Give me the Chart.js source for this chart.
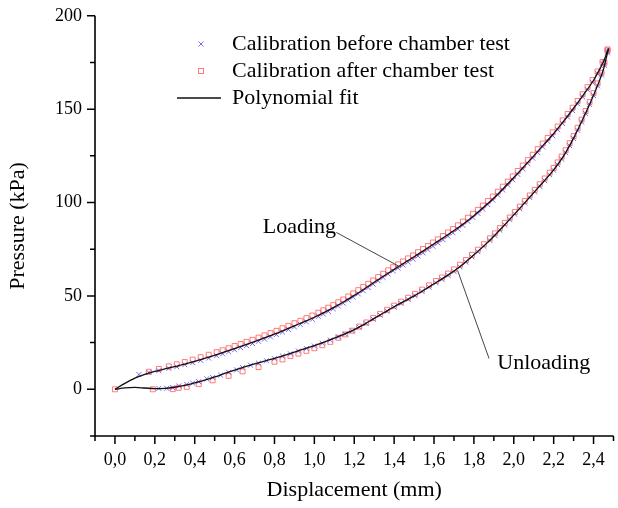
<!DOCTYPE html>
<html><head><meta charset="utf-8">
<script src="https://cdn.jsdelivr.net/npm/chart.js@4.4.1/dist/chart.umd.min.js"></script>
<style>html,body{margin:0;padding:0;background:#fff;}#wrap{width:618px;height:508px;}</style>
</head><body><div id="wrap"><canvas id="c" width="618" height="508"></canvas></div>
<script>
// ---------- data ----------
const loadX = [0.12,0.17,0.22,0.27,0.31,0.35,0.39,0.43,0.47,0.51,0.54,0.57,0.60,0.63,0.66,0.69,0.72,0.75,0.78,0.81,0.84,0.87,0.90,0.93,0.96,0.99,
1.02,1.045,1.07,1.095,1.12,1.145,1.17,1.195,1.22,1.245,1.27,1.295,1.32,1.345,1.37,1.395,1.42,1.445,1.47,1.495,1.52,1.545,1.57,1.595,1.62,1.645,1.67,1.695,1.72,1.745,1.77,1.795,1.82,1.845,1.87,1.895,1.92,1.945,1.97,1.995,2.02,2.045,2.07,2.095,2.12,2.145,2.17,2.195,2.22,2.245,2.27,2.295,2.32,2.345,2.37,2.395,2.42,2.445,2.47];
const loadBlue = [7.9,9.0,10.0,11.2,12.1,13.2,14.3,15.5,16.7,18.0,19.0,20.1,21.2,22.3,23.4,24.5,25.7,26.9,28.1,29.3,30.7,32.0,33.4,34.7,36.1,37.5,
39.0,40.3,41.7,43.1,44.6,46.1,47.7,49.4,51.1,52.8,54.5,56.3,58.1,59.9,61.7,63.4,64.9,66.5,68.1,69.7,71.4,73.1,74.8,76.6,78.3,80.1,82.0,83.8,85.8,87.8,89.9,92.0,94.2,96.5,98.9,101.3,104.0,106.7,109.4,112.2,115.1,118.0,120.9,123.8,126.8,129.8,132.8,135.8,139.0,142.3,145.8,149.2,152.9,156.6,160.4,164.3,169.0,174.3,181.0];
const loadRed = [null,9.4,10.9,12.3,13.4,14.6,15.9,17.2,18.5,19.9,20.9,22.0,23.2,24.3,25.4,26.5,27.7,28.9,30.1,31.3,32.7,34.0,35.4,36.7,38.1,39.5,
41.0,42.3,43.7,45.1,46.6,48.1,49.7,51.4,53.1,54.8,56.5,58.3,60.1,61.9,63.7,65.4,66.9,68.5,70.1,71.7,73.4,75.1,76.8,78.6,80.3,82.1,84.0,85.8,87.8,89.8,91.9,94.0,96.1,98.4,100.8,103.2,105.8,108.5,111.2,114.0,116.9,119.8,122.7,125.6,128.6,131.6,134.6,137.6,140.7,144.0,147.4,150.8,154.4,158.0,161.8,165.6,170.2,175.3,182.0];

const unloadX = [0,0.19,0.22,0.26,0.29,0.32,0.36,0.39,0.42,0.46,0.49,0.53,0.57,0.61,0.64,0.68,0.72,0.76,0.80,0.84,0.88,0.92,0.96,1.00,1.04,1.08,1.12,1.155,1.19,1.225,1.26,1.295,1.33,1.365,1.40,1.435,1.47,1.505,1.54,1.575,1.61,1.64,1.67,1.70,1.73,1.76,1.79,1.82,1.85,1.88,1.905,1.93,1.955,1.98,2.005,2.03,2.055,2.08,2.105,2.13,2.155,2.18,2.20,2.22,2.24,2.26,2.28,2.30,2.32,2.34,2.36,2.38,2.40,2.42,2.44,2.455,2.47];
const unloadBlue = [null,null,0.5,0.5,0.9,1.8,2.6,3.3,4.1,5.6,6.3,7.6,9.1,10.4,11.6,12.9,14.0,15.3,16.4,17.8,19.0,20.5,21.8,23.2,24.7,26.4,28.1,29.6,31.3,33.2,35.2,37.5,39.7,41.8,44.0,46.0,48.1,50.1,52.4,54.7,57.0,58.9,61.0,63.1,65.6,68.1,70.9,73.7,76.6,79.7,82.4,85.2,88.0,90.9,93.8,96.7,99.7,102.7,105.7,108.7,111.7,114.8,117.3,120.3,123.3,126.7,130.5,134.3,138.7,143.1,147.7,152.5,157.3,162.5,168.3,173.5,180.2];
const unloadRed = [0,0,null,null,0.1,0.8,1.3,null,2.8,null,4.8,null,7.2,null,9.6,null,11.9,null,14.8,16.0,17.8,19.1,20.6,22.0,23.6,25.4,27.6,29.4,31.4,33.6,35.8,38.2,40.4,42.6,44.8,46.9,49.0,51.1,53.4,55.7,58.0,59.9,62.0,64.2,66.7,69.2,72.0,74.8,77.7,80.8,83.5,86.3,89.1,92.0,94.9,97.8,100.8,103.8,106.8,109.8,112.9,116.0,118.5,121.5,124.6,128.0,131.8,135.6,140.0,144.4,149.0,153.8,158.6,163.8,169.5,174.8,181.4];

const fitX = [0,0.05,0.10,0.15,0.20,0.25,0.30,0.35,0.40,0.45,0.50,0.55,0.60,0.65,0.70,0.75,0.80,0.85,0.90,0.95,1.00,1.05,1.10,1.15,1.20,1.25,1.30,1.35,1.40,1.45,1.50,1.55,1.60,1.65,1.70,1.75,1.80,1.85,1.90,1.95,2.00,2.05,2.10,2.15,2.20,2.25,2.30,2.35,2.40,2.425,2.45,2.475];
const fitLoad = [0,3.2,6.0,8.0,9.6,10.9,12.1,13.5,15.0,16.6,18.2,20.0,21.8,23.6,25.5,27.5,29.5,31.7,34.0,36.2,38.6,41.2,44.0,47.0,50.3,53.7,57.3,60.8,64.2,67.6,71.0,74.4,77.9,81.4,85.0,88.8,93.0,97.6,102.4,107.8,113.4,119.2,125.0,131.0,137.0,143.6,150.5,157.8,165.5,170.3,175.5,182.5];
const fitUnload = [0,0.8,1.0,0.7,0.4,0.5,1.1,2.1,3.4,4.9,6.6,8.5,10.3,12.0,13.6,15.1,16.6,18.2,19.9,21.7,23.4,25.3,27.4,29.6,32.0,34.8,38.0,41.1,44.2,47.1,50.0,53.2,56.5,59.8,63.3,67.4,72.0,76.8,82.0,87.6,93.4,99.3,105.3,111.3,117.5,125.0,134.5,145.5,157.5,164.0,171.5,182.5];

const xMajorTicks = [0,0.2,0.4,0.6,0.8,1.0,1.2,1.4,1.6,1.8,2.0,2.2,2.4];
const xMinorTicks = [-0.1,0.1,0.3,0.5,0.7,0.9,1.1,1.3,1.5,1.7,1.9,2.1,2.3,2.5];
const yMajorTicks = [0,50,100,150,200];
const yMinorTicks = [-25,25,75,125,175];
const seriesNames = ['Calibration before chamber test','Calibration after chamber test','Polynomial fit'];
const xTitle = 'Displacement (mm)';
const yTitle = 'Pressure (kPa)';
const notes = [
  {text:'Loading',   tx:0.925, ty:87.0, x1:1.11,  y1:84.0, x2:1.434, y2:65.3},
  {text:'Unloading', tx:2.150, ty:14.0, x1:1.718, y1:63.7, x2:1.876, y2:16.5}
];

// ---------- styling ----------
const FONT = '"Liberation Serif", "Times New Roman", serif';
const blueC = 'rgba(60,60,255,0.75)';
const redC = 'rgba(255,80,80,0.75)';
const fitC = '#111';
const pts = (xs, ys) => xs.map((x, i) => ({x: x, y: ys[i]})).filter(p => p.y !== null);

Chart.defaults.font.family = FONT;
Chart.defaults.color = '#000';

const markerBase = {showLine:false, borderWidth:1, pointRadius:3.5, pointHoverRadius:3.5, backgroundColor:'rgba(0,0,0,0)'};
const fitBase = {showLine:true, pointRadius:0, borderColor:fitC, borderWidth:1.3, cubicInterpolationMode:'monotone', fill:false};

const datasets = [
  Object.assign({label:seriesNames[2], data:pts(fitX, fitLoad)}, fitBase),
  Object.assign({label:seriesNames[2], data:pts(fitX, fitUnload)}, fitBase),
  Object.assign({label:seriesNames[1], data:pts(loadX, loadRed), pointStyle:'rect', borderColor:redC, pointBorderColor:redC}, markerBase),
  Object.assign({label:seriesNames[1], data:pts(unloadX, unloadRed), pointStyle:'rect', borderColor:redC, pointBorderColor:redC}, markerBase),
  Object.assign({label:seriesNames[0], data:pts(loadX, loadBlue), pointStyle:'crossRot', borderColor:blueC, pointBorderColor:blueC}, markerBase),
  Object.assign({label:seriesNames[0], data:pts(unloadX, unloadBlue), pointStyle:'crossRot', borderColor:blueC, pointBorderColor:blueC}, markerBase)
];

const axesPlugin = {
  id:'axesPlugin',
  afterDraw(chart){
    const {ctx, chartArea:a, scales:{x, y}} = chart;
    ctx.save();
    ctx.strokeStyle = '#000';
    ctx.lineWidth = 1.6;
    ctx.beginPath();
    ctx.moveTo(a.left, a.top);
    ctx.lineTo(a.left, a.bottom);
    ctx.lineTo(a.right, a.bottom);
    ctx.stroke();
    ctx.lineWidth = 1.5;
    ctx.beginPath();
    yMajorTicks.forEach(v => { const p = y.getPixelForValue(v); ctx.moveTo(a.left, p); ctx.lineTo(a.left - 8, p); });
    yMinorTicks.forEach(v => { const p = y.getPixelForValue(v); ctx.moveTo(a.left, p); ctx.lineTo(a.left - 5, p); });
    xMajorTicks.forEach(v => { const p = x.getPixelForValue(v); ctx.moveTo(p, a.bottom); ctx.lineTo(p, a.bottom + 8); });
    xMinorTicks.forEach(v => { const p = x.getPixelForValue(v); ctx.moveTo(p, a.bottom); ctx.lineTo(p, a.bottom + 5); });
    ctx.stroke();

    // annotations
    ctx.strokeStyle = '#444';
    ctx.lineWidth = 1;
    ctx.font = '22px ' + FONT;
    ctx.fillStyle = '#000';
    ctx.textAlign = 'center';
    ctx.textBaseline = 'middle';
    notes.forEach(n => {
      ctx.beginPath();
      ctx.moveTo(x.getPixelForValue(n.x1), y.getPixelForValue(n.y1));
      ctx.lineTo(x.getPixelForValue(n.x2), y.getPixelForValue(n.y2));
      ctx.stroke();
      ctx.fillText(n.text, x.getPixelForValue(n.tx), y.getPixelForValue(n.ty));
    });

    // legend
    const lx = 201, tx = 232, rows = [44, 71, 98];
    ctx.lineWidth = 1;
    ctx.strokeStyle = blueC;
    ctx.beginPath();
    ctx.moveTo(lx - 2.5, rows[0] - 2.5); ctx.lineTo(lx + 2.5, rows[0] + 2.5);
    ctx.moveTo(lx + 2.5, rows[0] - 2.5); ctx.lineTo(lx - 2.5, rows[0] + 2.5);
    ctx.stroke();
    ctx.strokeStyle = redC;
    ctx.strokeRect(lx - 2.5, rows[1] - 2.5, 5, 5);
    ctx.strokeStyle = fitC;
    ctx.lineWidth = 1.3;
    ctx.beginPath();
    ctx.moveTo(177, rows[2]); ctx.lineTo(221, rows[2]);
    ctx.stroke();
    ctx.textAlign = 'left';
    seriesNames.forEach((s, i) => ctx.fillText(s, tx, rows[i]));
    ctx.restore();
  }
};

new Chart(document.getElementById('c'), {
  type:'scatter',
  data:{datasets:datasets},
  options:{
    responsive:false,
    devicePixelRatio:1,
    animation:false,
    layout:{padding:{top:15, right:1, left:0, bottom:0}},
    plugins:{legend:{display:false}, tooltip:{enabled:false}},
    scales:{
      x:{
        type:'linear', min:-0.1, max:2.5,
        afterBuildTicks: s => { s.ticks = xMajorTicks.map(v => ({value:v})); },
        afterFit: s => { s.height = 72; },
        ticks:{autoSkip:false, maxRotation:0, padding:5, color:'#000',
          font:{family:FONT, size:18},
          callback: v => Number(v).toFixed(1).replace('.', ',')},
        grid:{display:false},
        border:{display:false},
        title:{display:true, text:xTitle, color:'#000', font:{family:FONT, size:22}, padding:{top:5, bottom:5}}
      },
      y:{
        type:'linear', min:-25, max:200,
        afterBuildTicks: s => { s.ticks = yMajorTicks.map(v => ({value:v})); },
        afterFit: s => { s.width = 95; },
        ticks:{autoSkip:false, padding:5, color:'#000',
          font:{family:FONT, size:18},
          callback: v => String(v)},
        grid:{display:false},
        border:{display:false},
        title:{display:true, text:yTitle, color:'#000', font:{family:FONT, size:22}, padding:{top:5, bottom:5}}
      }
    }
  },
  plugins:[axesPlugin]
});
</script>
</body></html>
